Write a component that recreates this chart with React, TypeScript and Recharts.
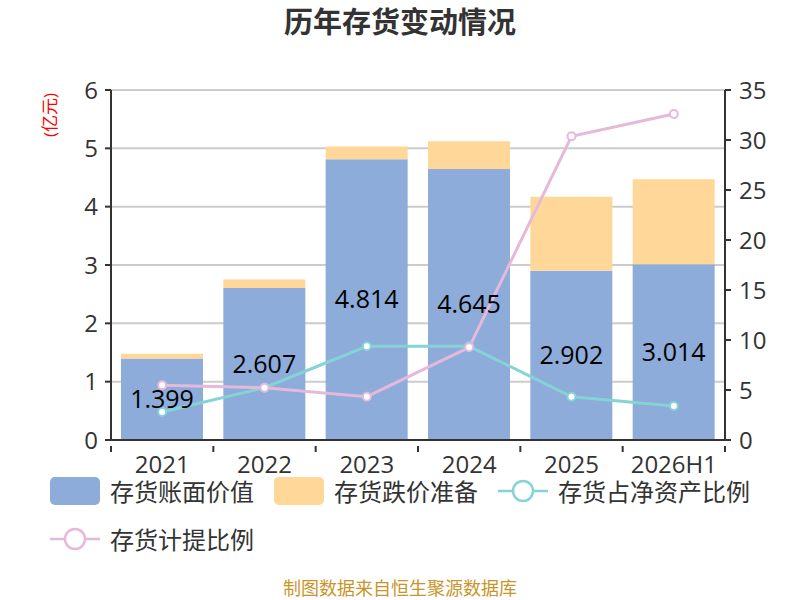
import React from "react";
import {
  Bar,
  CartesianGrid,
  ComposedChart,
  LabelList,
  Line,
  XAxis,
  YAxis,
} from "recharts";

const years = ["2021", "2022", "2023", "2024", "2025", "2026H1"];
const bookValue = [1.399, 2.607, 4.814, 4.645, 2.902, 3.014];
const provision = [0.081, 0.144, 0.218, 0.475, 1.266, 1.458];
const netAssetRatio = [2.8, 5.23, 9.37, 9.37, 4.33, 3.4];
const provisionRatio = [5.47, 5.23, 4.33, 9.27, 30.37, 32.6];
const leftTicks = [0, 1, 2, 3, 4, 5, 6];
const rightTicks = [0, 5, 10, 15, 20, 25, 30, 35];

const BLUE = "#8dacd9";
const ORANGE = "#ffd899";
const TEAL = "#85d3d5";
const PINK = "#e6b9da";
const TEXT = "#333";
const FONT = '"Open Sans", "Noto Sans CJK SC", sans-serif';

const data = years.map((year, i) => ({
  year,
  book: bookValue[i],
  provision: provision[i],
  netRatio: netAssetRatio[i],
  provRatio: provisionRatio[i],
}));

const legendItems = [
  { name: "存货账面价值", color: BLUE, type: "rect" },
  { name: "存货跌价准备", color: ORANGE, type: "rect" },
  { name: "存货占净资产比例", color: TEAL, type: "line" },
  { name: "存货计提比例", color: PINK, type: "line" },
];

const TICK_SIZE = 6;
const TICK_MARGIN = 4;

// category axis: ticks sit on the band edges, labels in the middle
function YearTick(props: any) {
  const { x, y, payload, index, visibleTicksCount } = props;
  const half = payload.offset || 0;
  const axisY = y - TICK_MARGIN;
  const isLast = index === visibleTicksCount - 1;
  return (
    <g>
      <line x1={x - half} y1={axisY} x2={x - half} y2={axisY + TICK_SIZE} stroke={TEXT} strokeWidth={2} />
      {isLast && (
        <line x1={x + half} y1={axisY} x2={x + half} y2={axisY + TICK_SIZE} stroke={TEXT} strokeWidth={2} />
      )}
      <text x={x} y={y + TICK_SIZE} dy="0.71em" textAnchor="middle" fill={TEXT} fontSize={24}>
        {payload.value}
      </text>
    </g>
  );
}

function LegendIcon({ item }: { item: (typeof legendItems)[number] }) {
  if (item.type === "rect") {
    return <div style={{ width: 50, height: 28, borderRadius: 5, background: item.color }} />;
  }
  return (
    <svg width={50} height={28}>
      <line x1={0} y1={14} x2={50} y2={14} stroke={item.color} strokeWidth={2.5} />
      <circle cx={25} cy={14} r={10} fill="#fff" stroke={item.color} strokeWidth={2.5} />
    </svg>
  );
}

export default function App() {
  return (
    <div
      style={{
        position: "absolute",
        left: 0,
        top: 0,
        width: 800,
        height: 600,
        background: "#fff",
        fontFamily: FONT,
      }}
    >
      <div
        style={{
          position: "absolute",
          top: 2,
          width: 800,
          textAlign: "center",
          fontSize: 29,
          lineHeight: "40px",
          fontWeight: "bold",
          color: TEXT,
        }}
      >
        历年存货变动情况
      </div>
      <div
        style={{
          position: "absolute",
          left: 48,
          top: 115,
          transform: "translate(-50%, -50%) rotate(-90deg)",
          color: "#f00",
          fontSize: 17,
          whiteSpace: "nowrap",
        }}
      >
        (亿元)
      </div>
      <div
        style={{
          position: "absolute",
          left: 808,
          top: 100,
          transform: "translate(-50%, -50%) rotate(-90deg)",
          color: "#f00",
          fontSize: 17,
          whiteSpace: "nowrap",
        }}
      >
        (%)
      </div>
      <div style={{ position: "absolute", left: 0, top: 0 }}>
        <ComposedChart
          width={800}
          height={485}
          data={data}
          margin={{ top: 90, right: 0, left: 0, bottom: 10 }}
          barCategoryGap={10}
          style={{ fontFamily: FONT }}
        >
          <CartesianGrid
            vertical={false}
            stroke="#cccccc"
            strokeWidth={2}
            yAxisId="left"
          />
          <XAxis
            dataKey="year"
            height={35}
            axisLine={{ stroke: TEXT, strokeWidth: 2 }}
            tickLine={false}
            tickMargin={TICK_MARGIN}
            interval={0}
            tick={<YearTick />}
          />
          <YAxis
            yAxisId="left"
            width={111}
            domain={[0, 6]}
            ticks={leftTicks}
            axisLine={{ stroke: TEXT, strokeWidth: 2 }}
            tickLine={{ stroke: TEXT, strokeWidth: 2 }}
            tickSize={TICK_SIZE}
            tickMargin={7}
            tick={{ fill: TEXT, fontSize: 24 }}
          />
          <YAxis
            yAxisId="right"
            orientation="right"
            width={75}
            domain={[0, 35]}
            ticks={rightTicks}
            axisLine={{ stroke: TEXT, strokeWidth: 2 }}
            tickLine={{ stroke: TEXT, strokeWidth: 2 }}
            tickSize={TICK_SIZE}
            tickMargin={8}
            tick={{ fill: TEXT, fontSize: 24 }}
          />
          <Bar yAxisId="left" dataKey="book" stackId="a" fill={BLUE} isAnimationActive={false}>
            <LabelList dataKey="book" position="center" fill="#000" fontSize={25} />
          </Bar>
          <Bar yAxisId="left" dataKey="provision" stackId="a" fill={ORANGE} isAnimationActive={false} />
          <Line
            yAxisId="right"
            dataKey="netRatio"
            stroke={TEAL}
            strokeWidth={3}
            dot={{ r: 4, fill: "#fff", stroke: TEAL, strokeWidth: 2 }}
            isAnimationActive={false}
          />
          <Line
            yAxisId="right"
            dataKey="provRatio"
            stroke={PINK}
            strokeWidth={3}
            dot={{ r: 4, fill: "#fff", stroke: PINK, strokeWidth: 2 }}
            isAnimationActive={false}
          />
        </ComposedChart>
      </div>
      <div
        style={{
          position: "absolute",
          left: 50,
          top: 477,
          width: 740,
          display: "flex",
          flexWrap: "wrap",
          rowGap: 20,
        }}
      >
        {legendItems.map((item) => (
          <div
            key={item.name}
            style={{ display: "flex", alignItems: "center", marginRight: 20, height: 28 }}
          >
            <LegendIcon item={item} />
            <span
              style={{
                marginLeft: 10,
                fontSize: 24,
                lineHeight: "28px",
                color: TEXT,
                fontFamily: '"Noto Sans CJK SC", sans-serif',
              }}
            >
              {item.name}
            </span>
          </div>
        ))}
      </div>
      <div
        style={{
          position: "absolute",
          top: 576,
          width: 800,
          textAlign: "center",
          fontSize: 18,
          lineHeight: "22px",
          color: "#c8952b",
          fontFamily: '"Noto Sans CJK SC", sans-serif',
        }}
      >
        制图数据来自恒生聚源数据库
      </div>
    </div>
  );
}
